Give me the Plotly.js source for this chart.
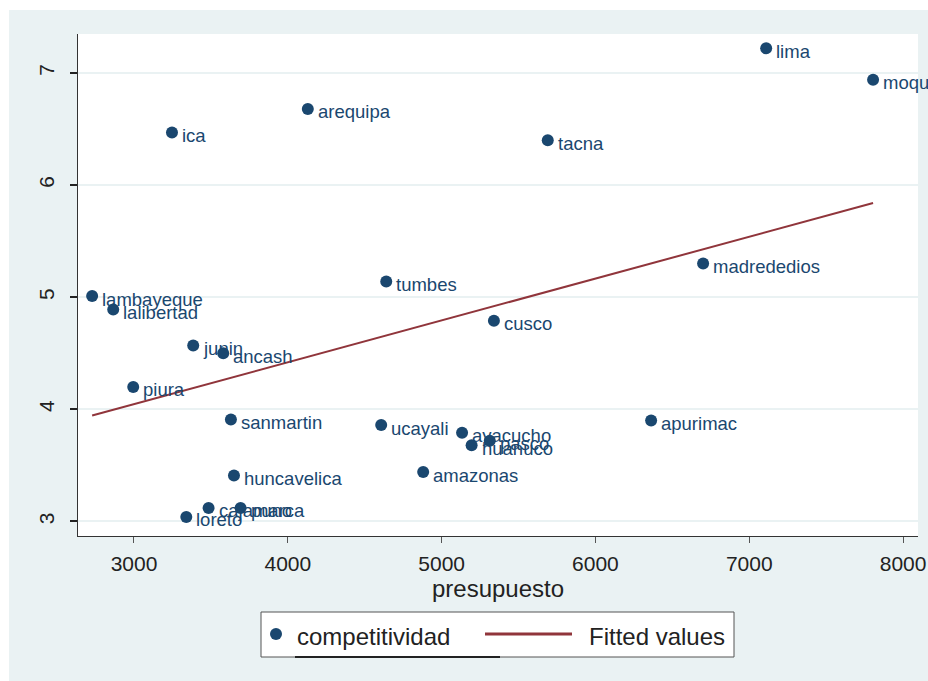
<!DOCTYPE html>
<html>
<head>
<meta charset="utf-8">
<script src="https://cdn.plot.ly/plotly-3.0.1.min.js"></script>
<style>
html,body{margin:0;padding:0;background:#ffffff;width:928px;height:681px;overflow:hidden;}
#chart{position:absolute;left:9px;top:10px;width:919px;height:671px;}
</style>
</head>
<body>
<div id="chart"></div>
<script>
const regions = ["lima","moquegua","arequipa","ica","tacna","madrededios","tumbes","lambayeque","lalibertad","cusco","junin","ancash","piura","sanmartin","apurimac","ucayali","ayacucho","pasco","huanuco","amazonas","huncavelica","cajamarca","puno","loreto"];
const presupuesto = [7110,7805,4130,3247,5690,6700,4640,2728,2865,5340,3385,3580,2995,3630,6362,4607,5133,5313,5195,4880,3650,3485,3693,3340];
const competitividad = [7.22,6.94,6.68,6.47,6.40,5.30,5.14,5.01,4.89,4.79,4.57,4.50,4.20,3.91,3.90,3.86,3.79,3.72,3.68,3.44,3.41,3.12,3.12,3.04];
const fitX = [2728, 7805];
const fitY = [3.945, 5.84];
const xTicks = [3000,4000,5000,6000,7000,8000];
const yTicks = [3,4,5,6,7];
const legendLabels = ["competitividad", "Fitted values"];

const navy = "#1a476f";
const fitColor = "#90353b";
const bg = "#eaf2f3";
const font = "Liberation Sans, Arial, sans-serif";

// plot area in screen px: x 78..918, y 34..536
const px = sx => (sx - 78) / 840;
const py = sy => (536 - sy) / 502;

const traces = [
  {
    x: presupuesto, y: competitividad, text: regions,
    type: "scatter", mode: "markers", name: legendLabels[0],
    marker: {color: navy, size: 12},
    cliponaxis: false
  },
  {
    x: fitX, y: fitY, type: "scatter", mode: "lines", name: legendLabels[1],
    line: {color: fitColor, width: 2}
  }
];

const shapes = [
  {type: "rect", xref: "paper", yref: "paper", x0: px(261), x1: px(734), y0: py(657), y1: py(612),
   fillcolor: "#ffffff", line: {color: "#555555", width: 1}},
  {type: "line", xref: "paper", yref: "paper", x0: px(295), x1: px(500), y0: py(657), y1: py(657),
   line: {color: "#222222", width: 2}},
  {type: "circle", xref: "paper", yref: "paper", xsizemode: "pixel", ysizemode: "pixel",
   xanchor: px(276), yanchor: py(634), x0: -6, x1: 6, y0: -6, y1: 6,
   fillcolor: navy, line: {color: navy, width: 0}},
  {type: "line", xref: "paper", yref: "paper", x0: px(485), x1: px(572), y0: py(634), y1: py(634),
   line: {color: fitColor, width: 3}}
];

const pointLabels = regions.map((r, i) => ({
  xref: "x", yref: "y", x: presupuesto[i], y: competitividad[i],
  xanchor: "left", yanchor: "middle", xshift: 8, yshift: -3,
  text: r, showarrow: false,
  font: {family: font, size: 18.5, color: navy}
}));

const annotations = pointLabels.concat([
  {xref: "paper", yref: "paper", x: px(295), y: py(636), xanchor: "left", yanchor: "middle",
   text: legendLabels[0], showarrow: false, font: {family: font, size: 24, color: "#222222"}},
  {xref: "paper", yref: "paper", x: px(587), y: py(636), xanchor: "left", yanchor: "middle",
   text: legendLabels[1], showarrow: false, font: {family: font, size: 24, color: "#222222"}}
]);

const layout = {
  width: 919, height: 671,
  paper_bgcolor: bg, plot_bgcolor: "#ffffff",
  margin: {l: 69, r: 10, t: 24, b: 145},
  font: {family: font, color: "#222222"},
  showlegend: false,
  shapes: shapes,
  annotations: annotations,
  xaxis: {
    range: [2636, 8097], tickvals: xTicks, ticktext: xTicks.map(String),
    showgrid: false, zeroline: false,
    showline: true, linecolor: "#333333", linewidth: 1,
    ticks: "outside", ticklen: 6, tickcolor: "#555555", tickwidth: 1,
    ticklabelstandoff: 3,
    tickfont: {family: font, size: 21, color: "#222222"},
    title: {text: "presupuesto", font: {family: font, size: 24, color: "#222222"}, standoff: 2}
  },
  yaxis: {
    range: [2.87, 7.348], tickvals: yTicks, ticktext: yTicks.map(String),
    showgrid: true, gridcolor: bg, gridwidth: 2, zeroline: false,
    showline: true, linecolor: "#333333", linewidth: 1,
    ticks: "outside", ticklen: 7, tickcolor: "#222222", tickwidth: 2,
    tickangle: -90, ticklabelstandoff: 8,
    tickfont: {family: font, size: 21, color: "#222222"}
  }
};

Plotly.newPlot("chart", traces, layout, {displayModeBar: false, staticPlot: true});
</script>
</body>
</html>
